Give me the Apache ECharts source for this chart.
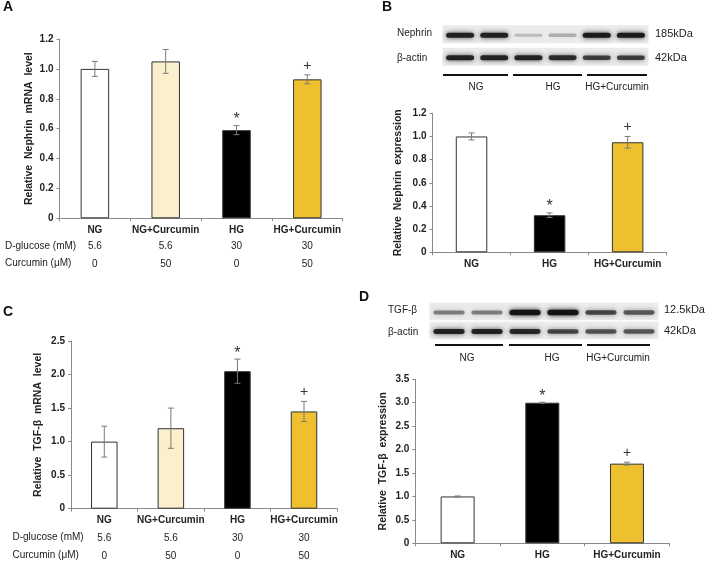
<!DOCTYPE html>
<html><head><meta charset="utf-8">
<script src="https://cdn.jsdelivr.net/npm/echarts@6/dist/echarts.min.js"></script>
<style>html,body{margin:0;padding:0;background:#fff}#c{width:708px;height:565px}</style>
</head><body><div id="c"></div>
<script>
// ---- data ----
const catA = ['NG', 'NG+Curcumin', 'HG', 'HG+Curcumin'];
const valA = [1.0, 1.05, 0.59, 0.93];
const errA = [0.05, 0.08, 0.03, 0.03];
const sigA = ['', '', '*', '+'];
const glucose = ['5.6', '5.6', '30', '30'];
const curcumin = ['0', '50', '0', '50'];

const catB = ['NG', 'HG', 'HG+Curcumin'];
const valB = [1.0, 0.32, 0.95];
const errB = [0.03, 0.02, 0.05];
const sigB = ['', '*', '+'];

const catC = ['NG', 'NG+Curcumin', 'HG', 'HG+Curcumin'];
const valC = [1.0, 1.2, 2.05, 1.45];
const errC = [0.23, 0.30, 0.18, 0.15];
const sigC = ['', '', '*', '+'];

const catD = ['NG', 'HG', 'HG+Curcumin'];
const valD = [1.0, 3.0, 1.7];
const errD = [0.01, 0.01, 0.03];
const sigD = ['', '*', '+'];

// western blot band intensities (6 lanes)
const blotBRows = ['Nephrin', 'β-actin'];
const nephrinBand = [0.85, 0.85, 0.2, 0.26, 0.9, 0.9];
const actinBandB = [0.85, 0.85, 0.85, 0.8, 0.72, 0.72];
const blotDRows = ['TGF-β', 'β-actin'];
const tgfBand = [0.45, 0.45, 0.95, 0.97, 0.68, 0.6];
const actinBandD = [0.85, 0.85, 0.82, 0.68, 0.62, 0.6];
const kdaB = ['185kDa', '42kDa'];
const kdaD = ['12.5kDa', '42kDa'];
const groups = ['NG', 'HG', 'HG+Curcumin'];

// ---- styles ----
const fill4 = ['#ffffff', '#faf0cc', '#000000', '#eec02f'];
const fill3 = ['#ffffff', '#000000', '#eec02f'];
const FONT = 'Liberation Sans, Arial, sans-serif';
const axisGray = '#8a8a8a';

function barData(vals, fills) {
  return vals.map((v, i) => ({ value: v, itemStyle: { color: fills[i] } }));
}
function errData(vals, errs) {
  return vals.map((v, i) => [i, v, errs[i]]);
}
function errSeries(xIdx, yIdx, vals, errs, sigs) {
  return {
    type: 'custom', xAxisIndex: xIdx, yAxisIndex: yIdx, z: 5,
    data: errData(vals, errs),
    renderItem: function (params, api) {
      const i = api.value(0), v = api.value(1), e = api.value(2);
      const t = api.coord([i, v + e]);
      const b = api.coord([i, v - e]);
      const st = { stroke: '#7a7a7a', lineWidth: 1 };
      const ch = [
        { type: 'line', shape: { x1: t[0], y1: t[1], x2: b[0], y2: b[1] }, style: st },
        { type: 'line', shape: { x1: t[0] - 3, y1: t[1], x2: t[0] + 3, y2: t[1] }, style: st },
        { type: 'line', shape: { x1: b[0] - 3, y1: b[1], x2: b[0] + 3, y2: b[1] }, style: st }
      ];
      const s = sigs[params.dataIndex];
      if (s) {
        ch.push({ type: 'text', style: { text: s, x: t[0], y: t[1] - (s === '*' ? 6 : 9), align: 'center', verticalAlign: 'middle', fontSize: s === '*' ? 16 : 14, fontFamily: FONT, fill: '#333' } });
      }
      return { type: 'group', children: ch };
    }
  };
}

function yAxis(grid, max, interval, name, gap) {
  return {
    type: 'value', gridIndex: grid, min: 0, max: max, interval: interval,
    name: name, nameLocation: 'middle', nameRotate: 90, nameGap: gap,
    nameTextStyle: { fontFamily: FONT, fontWeight: 'bold', fontSize: 10.5, color: '#222' },
    axisLine: { show: true, lineStyle: { color: axisGray } },
    axisTick: { show: true, length: 3, lineStyle: { color: axisGray } },
    splitLine: { show: false },
    axisLabel: { fontFamily: FONT, fontWeight: 'bold', fontSize: 10, color: '#222', margin: 6,
      formatter: v => v === 0 ? '0' : v.toFixed(1) }
  };
}
function xCat(grid, data) {
  return {
    type: 'category', gridIndex: grid, data: data,
    axisLine: { lineStyle: { color: axisGray } },
    axisTick: { show: true, length: 3, alignWithLabel: false, lineStyle: { color: axisGray } },
    axisLabel: { fontFamily: FONT, fontWeight: 'bold', fontSize: 10, color: '#222', margin: 7, interval: 0 }
  };
}
function xRow(grid, data, offset) {
  return {
    type: 'category', gridIndex: grid, data: data, position: 'bottom', offset: offset,
    axisLine: { show: false }, axisTick: { show: false },
    axisLabel: { fontFamily: FONT, fontSize: 10, color: '#222', margin: 7, interval: 0 }
  };
}

function blotBg(xIdx, yIdx, gap) {
  const d = [];
  for (let r = 0; r < 2; r++) for (let l = 0; l < 6; l++) d.push([l, r]);
  return {
    type: 'custom', xAxisIndex: xIdx, yAxisIndex: yIdx, z: 1, data: d,
    renderItem: function (params, api) {
      const c = api.coord([api.value(0) + 0.5, api.value(1)]);
      const cw = api.size([1, 0])[0];
      const rh = api.size([0, 1])[1] - gap;
      return { type: 'rect', shape: { x: c[0] - cw / 2 - 0.5, y: c[1] - rh / 2, width: cw + 1, height: rh }, style: { fill: '#ebebeb' } };
    }
  };
}
function blotBands(xIdx, yIdx, rows) {
  const d = [];
  rows.forEach((arr, r) => arr.forEach((a, l) => d.push([l, r, a])));
  return {
    type: 'custom', xAxisIndex: xIdx, yAxisIndex: yIdx, z: 2, data: d,
    renderItem: function (params, api) {
      const a = api.value(2);
      const c = api.coord([api.value(0) + 0.5, api.value(1)]);
      const cw = api.size([1, 0])[0];
      const w = cw * 0.82, h = 2.5 + 3 * a;
      const col = 'rgba(15,15,15,' + a + ')';
      return { type: 'rect', shape: { x: c[0] - w / 2, y: c[1] - h / 2 + 1, width: w, height: h, r: h / 2 },
        style: { fill: col, shadowBlur: 5, shadowColor: col } };
    }
  };
}

const txt = (t, x, y, opt) => ({ type: 'text', style: Object.assign({ text: t, x: x, y: y, fontFamily: FONT, fontSize: 10, fill: '#222', verticalAlign: 'middle' }, opt || {}) });
const hline = (x1, x2, y) => ({ type: 'line', shape: { x1: x1, y1: y, x2: x2, y2: y }, style: { stroke: '#111', lineWidth: 2 } });

const chart = echarts.init(document.getElementById('c'), null, { renderer: 'canvas' });
chart.setOption({
  backgroundColor: '#fff',
  animation: false,
  grid: [
    { left: 59.5, right: 365.3, top: 39, bottom: 346.7 },
    { left: 432.5, right: 41.3, top: 113.3, bottom: 312.7 },
    { left: 71, right: 370.7, top: 341, bottom: 56.3 },
    { left: 415.3, right: 38.7, top: 379.3, bottom: 21.7 },
    { left: 443, right: 60, top: 23, bottom: 497 },
    { left: 430, right: 50, top: 302, bottom: 225 }
  ],
  xAxis: [
    xCat(0, catA), xRow(0, glucose, 16), xRow(0, curcumin, 33.5),
    xCat(1, catB),
    xCat(2, catC), xRow(2, glucose, 17.5), xRow(2, curcumin, 36),
    xCat(3, catD),
    { type: 'value', gridIndex: 4, min: 0, max: 6, show: false },
    { type: 'value', gridIndex: 5, min: 0, max: 6, show: false }
  ],
  yAxis: [
    yAxis(0, 1.2, 0.2, 'Relative  Nephrin  mRNA  level', 25),
    yAxis(1, 1.2, 0.2, 'Relative  Nephrin  expression', 29),
    yAxis(2, 2.5, 0.5, 'Relative  TGF-β  mRNA  level', 27),
    yAxis(3, 3.5, 0.5, 'Relative  TGF-β  expression', 27),
    { type: 'category', gridIndex: 4, data: blotBRows, inverse: true, show: false },
    { type: 'category', gridIndex: 5, data: blotDRows, inverse: true, show: false }
  ],
  series: [
    { type: 'bar', xAxisIndex: 0, yAxisIndex: 0, barWidth: 28.5, data: barData(valA, fill4), itemStyle: { borderColor: '#333', borderWidth: 1 } },
    { type: 'bar', xAxisIndex: 3, yAxisIndex: 1, barWidth: 31.5, data: barData(valB, fill3), itemStyle: { borderColor: '#333', borderWidth: 1 } },
    { type: 'bar', xAxisIndex: 4, yAxisIndex: 2, barWidth: 26.5, data: barData(valC, fill4), itemStyle: { borderColor: '#333', borderWidth: 1 } },
    { type: 'bar', xAxisIndex: 7, yAxisIndex: 3, barWidth: 34, data: barData(valD, fill3), itemStyle: { borderColor: '#333', borderWidth: 1 } },
    errSeries(0, 0, valA, errA, sigA),
    errSeries(3, 1, valB, errB, sigB),
    errSeries(4, 2, valC, errC, sigC),
    errSeries(7, 3, valD, errD, sigD),
    blotBg(8, 4, 4.5),
    blotBands(8, 4, [nephrinBand, actinBandB]),
    blotBg(9, 5, 1.5),
    blotBands(9, 5, [tgfBand, actinBandD])
  ],
  graphic: [
    txt('A', 3, 7, { fontSize: 14, fontWeight: 'bold', fill: '#111' }),
    txt('B', 382, 7, { fontSize: 14, fontWeight: 'bold', fill: '#111' }),
    txt('C', 3, 312, { fontSize: 14, fontWeight: 'bold', fill: '#111' }),
    txt('D', 359, 297, { fontSize: 14, fontWeight: 'bold', fill: '#111' }),
    txt('D-glucose (mM)', 5, 246),
    txt('Curcumin (μM)', 5, 263),
    txt('D-glucose (mM)', 12.5, 537),
    txt('Curcumin (μM)', 12.5, 555),
    // blot B labels
    txt(blotBRows[0], 397, 33.5, { fontSize: 10 }),
    txt(blotBRows[1], 397, 58, { fontSize: 10 }),
    txt(kdaB[0], 655, 33.5, { fontSize: 11 }),
    txt(kdaB[1], 655, 58, { fontSize: 11 }),
    hline(443, 508, 75), hline(513, 582, 75), hline(587, 647, 75),
    txt(groups[0], 476, 87, { align: 'center' }),
    txt(groups[1], 553, 87, { align: 'center' }),
    txt(groups[2], 617, 87, { align: 'center' }),
    // blot D labels
    txt(blotDRows[0], 388, 310, { fontSize: 10 }),
    txt(blotDRows[1], 388, 332, { fontSize: 10 }),
    txt(kdaD[0], 664, 310, { fontSize: 11 }),
    txt(kdaD[1], 664, 331, { fontSize: 11 }),
    hline(435, 503, 345), hline(509, 582, 345), hline(587, 650, 345),
    txt(groups[0], 467, 358, { align: 'center' }),
    txt(groups[1], 552, 358, { align: 'center' }),
    txt(groups[2], 618, 358, { align: 'center' })
  ]
});
</script>
</body></html>
